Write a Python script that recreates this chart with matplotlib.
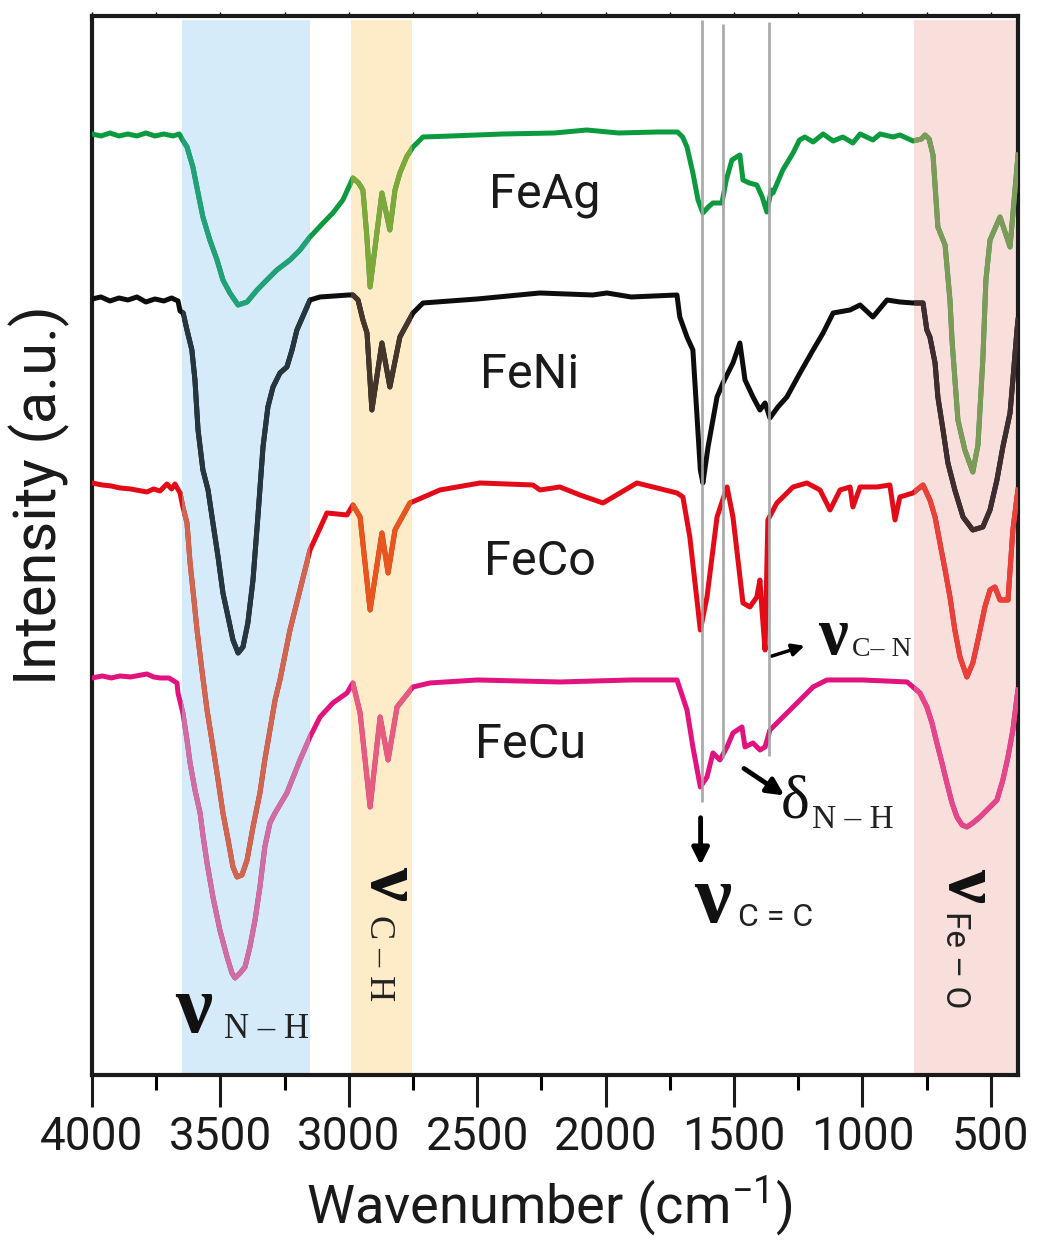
import numpy as np
import matplotlib.pyplot as plt

# FTIR spectra of the Fe-based samples (wavenumber in cm-1, stacked intensity in a.u.)
feag_wn = [4000, 3965, 3930, 3895, 3860, 3825, 3790, 3755, 3720, 3685, 3660, 3650, 3630, 3607,
           3587, 3568, 3541, 3513, 3490, 3463, 3431, 3396, 3357, 3319, 3280, 3229, 3190, 3151,
           3100, 3062, 3023, 2984, 2962, 2945, 2930, 2917, 2871, 2840, 2820, 2801, 2775, 2750,
           2711, 2600, 2400, 2200, 2073, 1950, 1800, 1720, 1700, 1683, 1660, 1640, 1621, 1600,
           1582, 1547, 1530, 1508, 1490, 1477, 1465, 1440, 1411, 1390, 1372, 1355, 1348, 1310,
           1270, 1245, 1224, 1192, 1153, 1114, 1076, 1037, 1009, 959, 931, 881, 854, 803, 770,
           756, 740, 725, 706, 678, 659, 651, 628, 601, 570, 550, 531, 519, 503, 464, 425, 398,
           394]
feag_int = [9.41, 9.39, 9.42, 9.39, 9.41, 9.39, 9.42, 9.39, 9.41, 9.39, 9.41, 9.36, 9.28, 9.08,
            8.82, 8.58, 8.35, 8.15, 7.95, 7.82, 7.70, 7.73, 7.85, 7.95, 8.05, 8.15, 8.25, 8.38,
            8.52, 8.62, 8.75, 8.97, 8.92, 8.85, 8.40, 7.88, 8.82, 8.45, 8.85, 9.02, 9.18, 9.28,
            9.38, 9.39, 9.41, 9.42, 9.45, 9.42, 9.43, 9.43, 9.38, 9.28, 9.02, 8.75, 8.62, 8.68,
            8.72, 8.72, 8.95, 9.15, 9.18, 9.20, 8.95, 8.92, 8.90, 8.78, 8.63, 8.85, 8.82, 9.05,
            9.22, 9.35, 9.38, 9.33, 9.41, 9.34, 9.38, 9.32, 9.41, 9.35, 9.41, 9.38, 9.40, 9.34,
            9.36, 9.40, 9.36, 9.20, 8.48, 8.30, 7.75, 7.35, 6.55, 6.25, 6.03, 6.30, 7.15, 7.95,
            8.35, 8.58, 8.28, 9.08, 9.20]

feni_wn = [4000, 3965, 3930, 3895, 3860, 3825, 3790, 3755, 3720, 3690, 3665, 3657, 3645, 3630,
           3611, 3599, 3587, 3568, 3548, 3529, 3509, 3490, 3470, 3451, 3431, 3412, 3393, 3373,
           3354, 3334, 3315, 3295, 3268, 3241, 3221, 3202, 3151, 3112, 3000, 2984, 2964, 2945,
           2929, 2910, 2871, 2840, 2801, 2750, 2711, 2500, 2256, 2050, 1995, 1900, 1722, 1711,
           1683, 1660, 1631, 1621, 1601, 1566, 1543, 1504, 1477, 1457, 1426, 1399, 1379, 1360,
           1329, 1294, 1243, 1192, 1153, 1114, 1048, 1009, 959, 904, 854, 803, 764, 749, 737,
           717, 706, 686, 667, 640, 608, 570, 531, 503, 476, 453, 425, 414, 398, 394]
feni_int = [7.76, 7.78, 7.74, 7.77, 7.75, 7.78, 7.73, 7.76, 7.74, 7.77, 7.74, 7.64, 7.62, 7.45,
            7.25, 6.95, 6.45, 6.05, 5.85, 5.52, 5.18, 4.82, 4.58, 4.35, 4.22, 4.28, 4.52, 4.95,
            5.58, 6.28, 6.68, 6.88, 7.02, 7.08, 7.25, 7.45, 7.75, 7.78, 7.80, 7.80, 7.75, 7.55,
            7.42, 6.65, 7.32, 6.88, 7.38, 7.62, 7.72, 7.76, 7.82, 7.80, 7.82, 7.78, 7.80, 7.58,
            7.38, 7.25, 6.05, 5.92, 6.28, 6.78, 6.92, 7.12, 7.32, 6.95, 6.78, 6.65, 6.72, 6.57,
            6.68, 6.78, 7.02, 7.25, 7.42, 7.62, 7.65, 7.70, 7.58, 7.75, 7.73, 7.72, 7.72, 7.45,
            7.38, 7.12, 6.78, 6.45, 6.12, 5.85, 5.58, 5.45, 5.48, 5.65, 5.95, 6.28, 6.62, 6.95,
            7.45, 7.55]

feco_wn = [4000, 3960, 3925, 3891, 3850, 3786, 3760, 3735, 3708, 3690, 3677, 3657, 3646, 3630,
           3618, 3604, 3591, 3572, 3552, 3529, 3509, 3490, 3470, 3451, 3435, 3416, 3396, 3373,
           3346, 3327, 3307, 3287, 3268, 3229, 3190, 3151, 3085, 3007, 2984, 2956, 2917, 2871,
           2847, 2820, 2762, 2645, 2489, 2283, 2255, 2178, 2100, 2010, 1878, 1722, 1699, 1672,
           1631, 1605, 1566, 1527, 1504, 1465, 1438, 1411, 1399, 1391, 1379, 1368, 1333, 1270,
           1216, 1165, 1126, 1087, 1048, 1037, 1009, 943, 893, 873, 854, 803, 764, 737, 717,
           698, 678, 659, 640, 620, 593, 570, 550, 523, 503, 484, 464, 433, 414, 398, 394]
feco_int = [5.92, 5.90, 5.89, 5.87, 5.86, 5.83, 5.86, 5.84, 5.91, 5.86, 5.91, 5.82, 5.68, 5.52,
            5.12, 4.78, 4.45, 4.05, 3.65, 3.28, 2.95, 2.62, 2.35, 2.08, 1.98, 2.00, 2.15, 2.48,
            2.82, 3.15, 3.45, 3.75, 3.95, 4.45, 4.85, 5.25, 5.62, 5.60, 5.70, 5.58, 4.65, 5.42,
            5.02, 5.45, 5.72, 5.85, 5.92, 5.90, 5.85, 5.88, 5.80, 5.72, 5.92, 5.82, 5.78, 5.38,
            4.45, 4.78, 5.58, 5.88, 5.58, 4.72, 4.68, 4.78, 4.95, 4.65, 4.25, 5.55, 5.72, 5.88,
            5.92, 5.85, 5.65, 5.85, 5.88, 5.68, 5.88, 5.88, 5.90, 5.55, 5.78, 5.82, 5.90, 5.75,
            5.58, 5.32, 5.05, 4.78, 4.45, 4.18, 3.98, 4.12, 4.35, 4.68, 4.85, 4.88, 4.75, 4.75,
            5.45, 5.78, 5.85]

fecu_wn = [4000, 3960, 3925, 3891, 3850, 3786, 3760, 3735, 3700, 3669, 3665, 3646, 3630, 3618,
           3599, 3579, 3568, 3552, 3529, 3502, 3474, 3455, 3443, 3423, 3404, 3385, 3365, 3346,
           3327, 3307, 3287, 3264, 3241, 3190, 3151, 3112, 3062, 3007, 2984, 2956, 2917, 2878,
           2847, 2812, 2750, 2684, 2500, 2178, 1900, 1722, 1683, 1660, 1631, 1605, 1582, 1555,
           1527, 1504, 1469, 1457, 1426, 1399, 1379, 1360, 1321, 1270, 1192, 1138, 1000, 826,
           803, 776, 749, 729, 710, 690, 671, 651, 632, 612, 593, 570, 542, 503, 476, 453, 433,
           414, 398, 394]
fecu_int = [3.97, 3.99, 3.97, 3.99, 3.98, 4.01, 3.98, 3.97, 3.97, 3.92, 3.82, 3.62, 3.35, 3.12,
            2.85, 2.62, 2.40, 2.12, 1.78, 1.45, 1.18, 1.02, 0.97, 1.02, 1.08, 1.28, 1.55, 1.88,
            2.28, 2.52, 2.62, 2.72, 2.82, 3.15, 3.38, 3.58, 3.72, 3.82, 3.92, 3.62, 2.68, 3.58,
            3.15, 3.68, 3.88, 3.92, 3.95, 3.93, 3.95, 3.95, 3.65, 3.28, 2.88, 2.98, 3.22, 3.15,
            3.28, 3.42, 3.48, 3.28, 3.32, 3.25, 3.28, 3.45, 3.55, 3.68, 3.88, 3.95, 3.95, 3.93,
            3.88, 3.82, 3.68, 3.52, 3.32, 3.12, 2.92, 2.72, 2.58, 2.50, 2.48, 2.52, 2.58, 2.68,
            2.75, 2.95, 3.18, 3.45, 3.78, 3.85]

samples = ['FeAg', 'FeNi', 'FeCo', 'FeCu']
label_wn = [2236, 2294, 2255, 2294]
label_int = [8.80, 7.00, 5.13, 3.30]

# line colour outside / inside each highlighted band (N-H, C-H, Fe-O)
line_colors = [
    ['#0b9a3e', '#22a07a', '#7fa83a', '#7d9a58'],
    ['#0d0d0d', '#26363e', '#44362a', '#3f2c2f'],
    ['#e20b17', '#cf6650', '#e6561d', '#e8413a'],
    ['#e2127f', '#cd6ea6', '#e65b80', '#e4468a'],
]

band_lo = [3150, 2755, 394]
band_hi = [3650, 2990, 800]
band_colors = ['#d5ebf9', '#feecc9', '#f9dfdb']

# reference positions for C=C, N-H bending and C-N modes
mark_wn = [1625, 1543, 1364]
mark_bottom = [2.73, 3.17, 3.19]
mark_top = [10.55, 10.51, 10.53]

plt.rcParams['font.family'] = 'Roboto'
plt.rcParams['mathtext.fontset'] = 'custom'
plt.rcParams['mathtext.rm'] = 'Roboto'
plt.rcParams['mathtext.it'] = 'Roboto'

fig = plt.figure(figsize=(10.44, 12.4), dpi=100)
ax = fig.add_axes([0.0881, 0.1331, 0.8870, 0.8540])

spans = []
for lo, hi, c in zip(band_lo, band_hi, band_colors):
    spans.append(ax.axvspan(lo, hi, ymin=0.0, ymax=0.996, color=c, lw=0, zorder=0))

spectra = [(feag_wn, feag_int), (feni_wn, feni_int), (feco_wn, feco_int), (fecu_wn, fecu_int)]
for (wn, it), cols in zip(spectra, line_colors):
    ax.plot(wn, it, color=cols[0], lw=3.6, zorder=3, solid_joinstyle='round')
    # recolour the parts that fall inside the shaded bands
    for span, c in zip(spans, cols[1:]):
        ln, = ax.plot(wn, it, color=c, lw=3.6, zorder=4, solid_joinstyle='round')
        ln.set_clip_path(span)

ax.vlines(mark_wn, mark_bottom, mark_top, color='#a3a3a3', lw=2, alpha=0.9, zorder=5)

for name, x, y in zip(samples, label_wn, label_int):
    ax.text(x, y, name, fontsize=35, color='#1a1a1a', ha='center', va='center')

serif = 'Liberation Serif'
nu_kw = dict(family=serif, fontweight='bold', color='#111111', ha='center', va='center')
sub_kw = dict(family=serif, color='#222222', ha='center', va='center')

# N-H stretching
ax.text(3603, 0.62, '\u03bd', fontsize=60, **nu_kw)
ax.text(3322, 0.45, 'N \u2013 H', fontsize=25, **sub_kw)
# C-H stretching (vertical)
ax.text(2842, 1.92, '\u03bd', fontsize=55, rotation=270, **nu_kw)
ax.text(2886, 1.17, 'C \u2013 H', fontsize=26, rotation=270, **sub_kw)
# Fe-O stretching (vertical)
ax.text(591, 1.90, '\u03bd', fontsize=55, rotation=270, **nu_kw)
ax.text(639, 1.15, 'Fe \u2013 O', fontsize=24, rotation=270, family='Roboto',
        color='#222222', ha='center', va='center')
# C-N stretching
ax.text(1115, 4.37, '\u03bd', fontsize=48, **nu_kw)
ax.text(924, 4.25, 'C\u2013 N', fontsize=20, **sub_kw)
ax.annotate('', xy=(1215, 4.30), xytext=(1364, 4.18),
            arrowprops=dict(arrowstyle='-|>', color='black', lw=2.5, mutation_scale=18))
# N-H bending
ax.text(1262, 2.72, '\u03b4', fontsize=44, family=serif, color='#111111', ha='center', va='center')
ax.text(1037, 2.55, 'N \u2013 H', fontsize=24, **sub_kw)
ax.annotate('', xy=(1295, 2.78), xytext=(1470, 3.08),
            arrowprops=dict(arrowstyle='-|>', color='black', lw=3.5, mutation_scale=25))
# C=C stretching
ax.text(1582, 1.72, '\u03bd', fontsize=60, **nu_kw)
ax.text(1337, 1.57, 'C = C', fontsize=23, family='Roboto', color='#222222', ha='center', va='center')
ax.annotate('', xy=(1630, 2.07), xytext=(1630, 2.60),
            arrowprops=dict(arrowstyle='-|>', color='black', lw=3.5, mutation_scale=25))

ax.set_xlim(4000, 394)
ax.set_ylim(0, 10.59)
ax.set_xticks(np.arange(500, 4001, 500))
ax.set_xticks(np.arange(750, 4000, 500), minor=True)
ax.set_yticks([])
ax.tick_params(axis='x', which='major', length=23, width=2.2, direction='out', labelsize=33, pad=6,
               colors='#1a1a1a')
ax.tick_params(axis='x', which='minor', length=11, width=2.2, direction='out')
for s in ax.spines.values():
    s.set_linewidth(3)
    s.set_color('#1a1a1a')

top = ax.secondary_xaxis('top')
top.set_xticks(np.arange(500, 4001, 250))
top.tick_params(length=3, width=1, labeltop=False)
top.spines['top'].set_visible(False)

ax.set_xlabel('Wavenumber (cm$^{-1}$)', fontsize=39, color='#1a1a1a')
ax.xaxis.set_label_coords(0.494, -0.094)
ax.set_ylabel('Intensity (a.u.)', fontsize=43, color='#1a1a1a')
ax.yaxis.set_label_coords(-0.024, 0.548)

fig.savefig('out.png', dpi=100)
